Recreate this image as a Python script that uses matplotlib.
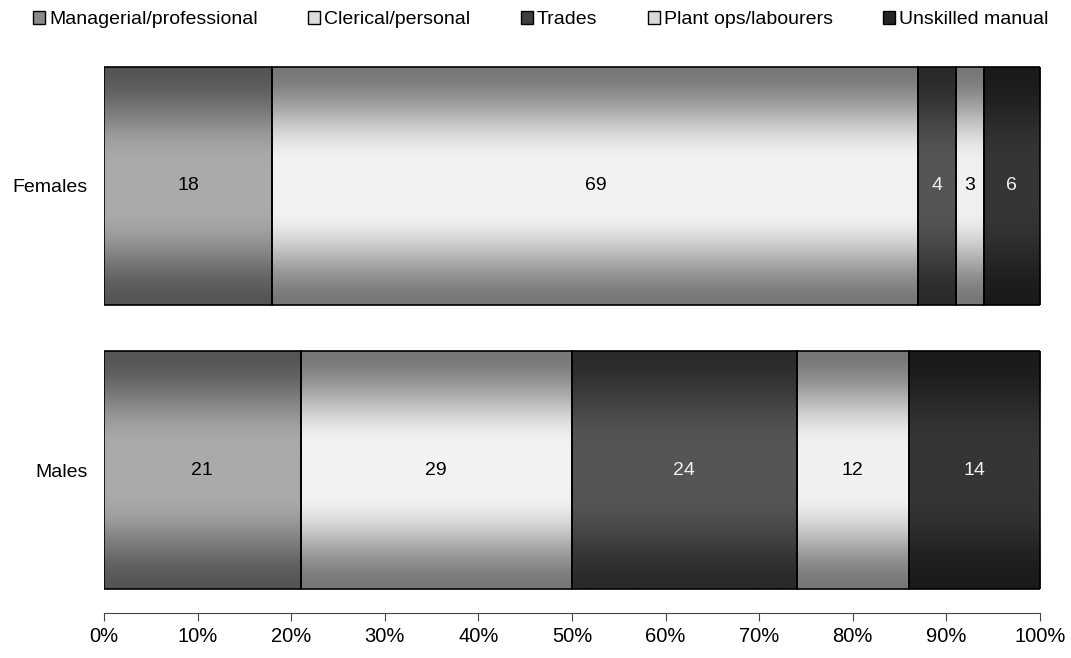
import matplotlib.pyplot as plt
import numpy as np
from matplotlib.patches import Rectangle

groups = ["Males", "Females"]
categories = ["Managerial/professional", "Clerical/personal", "Trades",
              "Plant ops/labourers", "Unskilled manual"]
males = [21, 29, 24, 12, 14]
females = [18, 69, 4, 3, 6]

edge_cols = ["#555555", "#777777", "#2a2a2a", "#777777", "#1a1a1a"]
mid_cols = ["#aaaaaa", "#f2f2f2", "#555555", "#f0f0f0", "#353535"]
legend_cols = ["#8a8a8a", "#dcdcdc", "#3e3e3e", "#d8d8d8", "#252525"]
text_cols = ["black", "black", "#f0f0f0", "black", "#f0f0f0"]

plt.rcParams['font.family'] = ['Liberation Sans', 'DejaVu Sans']


def gradient_img(edge, mid, n=200):
    e = np.array(plt.matplotlib.colors.to_rgb(edge))
    m = np.array(plt.matplotlib.colors.to_rgb(mid))
    t = np.abs(np.linspace(-1, 1, n))
    f = np.clip((t - 0.2) / 0.8, 0, 1)
    f = f * f * (3 - 2 * f)
    img = m[None, :] * (1 - f[:, None]) + e[None, :] * f[:, None]
    return img[:, None, :]


fig = plt.figure(figsize=(10.71, 6.58), dpi=100)
ax = fig.add_axes([104 / 1071, 1 - 613 / 658, 936 / 1071, 570 / 658])

height = 0.835
data = [males, females]
for yi, vals in enumerate(data):
    left = 0
    for ci, v in enumerate(vals):
        ax.imshow(gradient_img(edge_cols[ci], mid_cols[ci]), aspect='auto',
                  extent=(left, left + v, yi - height / 2, yi + height / 2),
                  interpolation='bilinear', zorder=1)
        ax.add_patch(Rectangle((left, yi - height / 2), v, height,
                               facecolor='none', edgecolor='black', lw=1.2, zorder=2))
        ax.text(left + v / 2, yi, str(v), ha='center', va='center',
                fontsize=14, color=text_cols[ci], zorder=3)
        left += v

ax.set_xlim(0, 100)
ax.set_ylim(-0.5035, 1.5035)
ax.set_yticks([0, 1])
ax.set_yticklabels(groups, fontsize=14)
ax.tick_params(axis='y', length=0, pad=12)
ax.set_xticks(np.arange(0, 101, 10))
ax.set_xticklabels([f"{x}%" for x in range(0, 101, 10)], fontsize=14.5)
ax.tick_params(axis='x', length=6, color='#444444', pad=4)
for s in ['top', 'right', 'left']:
    ax.spines[s].set_visible(False)
ax.spines['bottom'].set_color('#444444')

handles = [Rectangle((0, 0), 1, 1, facecolor=c, edgecolor='black', lw=1)
           for c in legend_cols]
fig.legend(handles, categories, loc='upper center', bbox_to_anchor=(0.505, 1.01),
           ncol=5, frameon=False, fontsize=14, handlelength=0.62, handleheight=0.62,
           handletextpad=0.2, columnspacing=2.6)

fig.savefig("out.png", dpi=100)
